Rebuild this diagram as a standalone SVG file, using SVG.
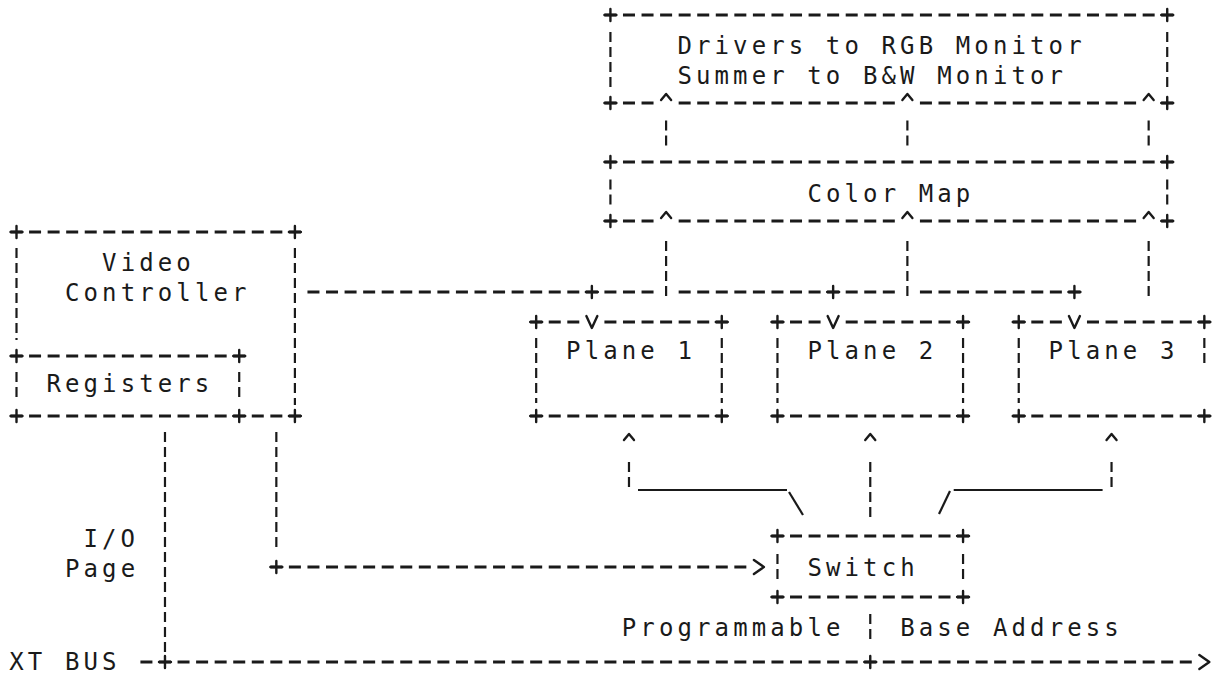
<svg xmlns="http://www.w3.org/2000/svg" width="1222" height="675" viewBox="0 0 1222 675">
<style>
  text { font-family: "DejaVu Sans Mono", "Liberation Mono", monospace; font-size: 24px; letter-spacing: 4.11px; fill: #1a1a1a; }
  .h { stroke: #1a1a1a; stroke-width: 3; stroke-dasharray: 12 6.56; fill: none; }
  .v { stroke: #1a1a1a; stroke-width: 2.2; stroke-dasharray: 10 5; fill: none; }
  .s { stroke: #1a1a1a; stroke-width: 2.2; fill: none; }
  .mk { stroke: #1a1a1a; stroke-width: 2.4; fill: none; stroke-linecap: round; stroke-linejoin: round; }
</style>
<defs>
  <path id="plus" class="mk" d="M-6,0H6M0,-6V6"/>
  <path id="up" class="mk" d="M-5,3L0,-3L5,3"/>
  <path id="down" class="mk" d="M-5.5,-6L0,6L5.5,-6"/>
  <path id="right" class="mk" d="M-5,-7L5,0L-5,7"/>
</defs>
<rect width="1222" height="675" fill="#ffffff"/>

<g id="drivers">
  <line class="h" x1="604.42" y1="15" x2="1173.22" y2="15"/>
  <line class="h" x1="604.42" y1="103" x2="653.54" y2="103"/>
  <line class="h" x1="678.66" y1="103" x2="894.82" y2="103"/>
  <line class="h" x1="919.94" y1="103" x2="1136.1" y2="103"/>
  <line class="h" x1="1161.22" y1="103" x2="1173.22" y2="103"/>
  <line class="v" x1="610.42" y1="32" x2="610.42" y2="87"/>
  <line class="v" x1="1167.22" y1="32" x2="1167.22" y2="87"/>
  <use href="#plus" x="610.42" y="15"/><use href="#plus" x="1167.22" y="15"/>
  <use href="#plus" x="610.42" y="103"/><use href="#plus" x="1167.22" y="103"/>
  <text x="677.4" y="54">Drivers to RGB Monitor</text>
  <text x="677.4" y="83.5">Summer to B&amp;W Monitor</text>
</g>

<g id="color-map">
  <line class="h" x1="604.42" y1="162" x2="1173.22" y2="162"/>
  <line class="h" x1="604.42" y1="221" x2="653.54" y2="221"/>
  <line class="h" x1="678.66" y1="221" x2="894.82" y2="221"/>
  <line class="h" x1="919.94" y1="221" x2="1136.1" y2="221"/>
  <line class="h" x1="1161.22" y1="221" x2="1173.22" y2="221"/>
  <line class="v" x1="610.42" y1="179.5" x2="610.42" y2="204.5"/>
  <line class="v" x1="1167.22" y1="179.5" x2="1167.22" y2="204.5"/>
  <use href="#plus" x="610.42" y="162"/><use href="#plus" x="1167.22" y="162"/>
  <use href="#plus" x="610.42" y="221"/><use href="#plus" x="1167.22" y="221"/>
  <text x="807.4" y="201.5">Color Map</text>
</g>

<g id="video-controller">
  <line class="h" x1="10.5" y1="232" x2="300.9" y2="232"/>
  <line class="h" x1="10.5" y1="416" x2="300.9" y2="416"/>
  <line class="v" x1="16.5" y1="248" x2="16.5" y2="340"/>
  <line class="v" x1="294.9" y1="248" x2="294.9" y2="405"/>
  <use href="#plus" x="16.5" y="232"/><use href="#plus" x="294.9" y="232"/>
  <use href="#plus" x="16.5" y="416"/><use href="#plus" x="294.9" y="416"/>
  <text x="102.1" y="271">Video</text>
  <text x="65" y="301">Controller</text>
</g>

<g id="registers">
  <line class="h" x1="10.5" y1="356" x2="245.22" y2="356"/>
  <line class="v" x1="16.5" y1="372" x2="16.5" y2="402"/>
  <line class="v" x1="239.22" y1="372" x2="239.22" y2="402"/>
  <use href="#plus" x="16.5" y="356"/><use href="#plus" x="239.22" y="356"/>
  <use href="#plus" x="239.22" y="416"/>
  <text x="46.4" y="392">Registers</text>
</g>

<g id="plane-1">
  <line class="h" x1="530.18" y1="322" x2="579.3" y2="322"/>
  <line class="h" x1="604.42" y1="322" x2="727.78" y2="322"/>
  <line class="h" x1="530.18" y1="416" x2="727.78" y2="416"/>
  <line class="v" x1="536.18" y1="338" x2="536.18" y2="403"/>
  <line class="v" x1="721.78" y1="338" x2="721.78" y2="403"/>
  <use href="#plus" x="536.18" y="322"/><use href="#plus" x="721.78" y="322"/>
  <use href="#plus" x="536.18" y="416"/><use href="#plus" x="721.78" y="416"/>
  <text x="566.1" y="359">Plane 1</text>
</g>

<g id="plane-2">
  <line class="h" x1="771.46" y1="322" x2="820.58" y2="322"/>
  <line class="h" x1="845.7" y1="322" x2="969.06" y2="322"/>
  <line class="h" x1="771.46" y1="416" x2="969.06" y2="416"/>
  <line class="v" x1="777.46" y1="338" x2="777.46" y2="403"/>
  <line class="v" x1="963.06" y1="338" x2="963.06" y2="403"/>
  <use href="#plus" x="777.46" y="322"/><use href="#plus" x="963.06" y="322"/>
  <use href="#plus" x="777.46" y="416"/><use href="#plus" x="963.06" y="416"/>
  <text x="807.4" y="359">Plane 2</text>
</g>

<g id="plane-3">
  <line class="h" x1="1012.74" y1="322" x2="1061.86" y2="322"/>
  <line class="h" x1="1086.98" y1="322" x2="1210.34" y2="322"/>
  <line class="h" x1="1012.74" y1="416" x2="1210.34" y2="416"/>
  <line class="v" x1="1018.74" y1="338" x2="1018.74" y2="403"/>
  <line class="v" x1="1204.34" y1="338" x2="1204.34" y2="363"/>
  <use href="#plus" x="1018.74" y="322"/><use href="#plus" x="1204.34" y="322"/>
  <use href="#plus" x="1018.74" y="416"/><use href="#plus" x="1204.34" y="416"/>
  <text x="1048.6" y="359">Plane 3</text>
</g>

<g id="switch">
  <line class="h" x1="771.46" y1="536" x2="969.06" y2="536"/>
  <line class="h" x1="771.46" y1="597" x2="969.06" y2="597"/>
  <line class="v" x1="777.46" y1="554" x2="777.46" y2="579"/>
  <line class="v" x1="963.06" y1="554" x2="963.06" y2="579"/>
  <use href="#plus" x="777.46" y="536"/><use href="#plus" x="963.06" y="536"/>
  <use href="#plus" x="777.46" y="597"/><use href="#plus" x="963.06" y="597"/>
  <text x="807.4" y="576">Switch</text>
</g>

<g id="labels">
  <text x="83.5" y="547">I/O</text>
  <text x="65" y="577">Page</text>
  <text x="621.8" y="636">Programmable</text>
  <text x="900.2" y="636">Base Address</text>
  <text x="9.3" y="670">XT BUS</text>
</g>

<g id="connectors">
  <use href="#up" x="666.1" y="97"/><use href="#up" x="907.38" y="97"/><use href="#up" x="1148.66" y="97"/>
  <line class="v" x1="666.1" y1="120.5" x2="666.1" y2="145.5"/>
  <line class="v" x1="907.38" y1="120.5" x2="907.38" y2="145.5"/>
  <line class="v" x1="1148.66" y1="120.5" x2="1148.66" y2="145.5"/>
  <use href="#up" x="666.1" y="215"/><use href="#up" x="907.38" y="215"/><use href="#up" x="1148.66" y="215"/>
  <line class="v" x1="666.1" y1="241" x2="666.1" y2="298"/>
  <line class="v" x1="907.38" y1="241" x2="907.38" y2="298"/>
  <line class="v" x1="1148.66" y1="241" x2="1148.66" y2="298"/>
  <line class="h" x1="307.46" y1="292" x2="653.54" y2="292"/>
  <line class="h" x1="678.66" y1="292" x2="894.82" y2="292"/>
  <line class="h" x1="919.94" y1="292" x2="1080.42" y2="292"/>
  <use href="#plus" x="591.86" y="292"/><use href="#plus" x="833.14" y="292"/><use href="#plus" x="1074.42" y="292"/>
  <use href="#down" x="591.86" y="322"/><use href="#down" x="833.14" y="322"/><use href="#down" x="1074.42" y="322"/>
  <use href="#up" x="628.98" y="437"/><use href="#up" x="870.26" y="437"/><use href="#up" x="1111.54" y="437"/>
  <line class="v" x1="628.98" y1="462" x2="628.98" y2="487"/>
  <line class="s" x1="638" y1="490" x2="787" y2="490"/>
  <line class="s" x1="789" y1="492" x2="803" y2="515"/>
  <line class="v" x1="870.26" y1="462" x2="870.26" y2="517"/>
  <line class="v" x1="1111.54" y1="462" x2="1111.54" y2="487"/>
  <line class="s" x1="953.7" y1="490" x2="1102.6" y2="490"/>
  <line class="s" x1="950" y1="491" x2="939" y2="514"/>
  <line class="v" x1="276.34" y1="432" x2="276.34" y2="547"/>
  <line class="h" x1="270.34" y1="567" x2="746.34" y2="567"/>
  <use href="#plus" x="276.34" y="567"/>
  <use href="#right" x="758.9" y="567"/>
  <line class="v" x1="164.98" y1="432" x2="164.98" y2="652"/>
  <line class="v" x1="870.26" y1="614" x2="870.26" y2="639"/>
  <line class="h" x1="140.42" y1="662" x2="1191.78" y2="662"/>
  <use href="#plus" x="164.98" y="662"/><use href="#plus" x="870.26" y="662"/>
  <use href="#right" x="1204.34" y="662"/>
</g>
</svg>
